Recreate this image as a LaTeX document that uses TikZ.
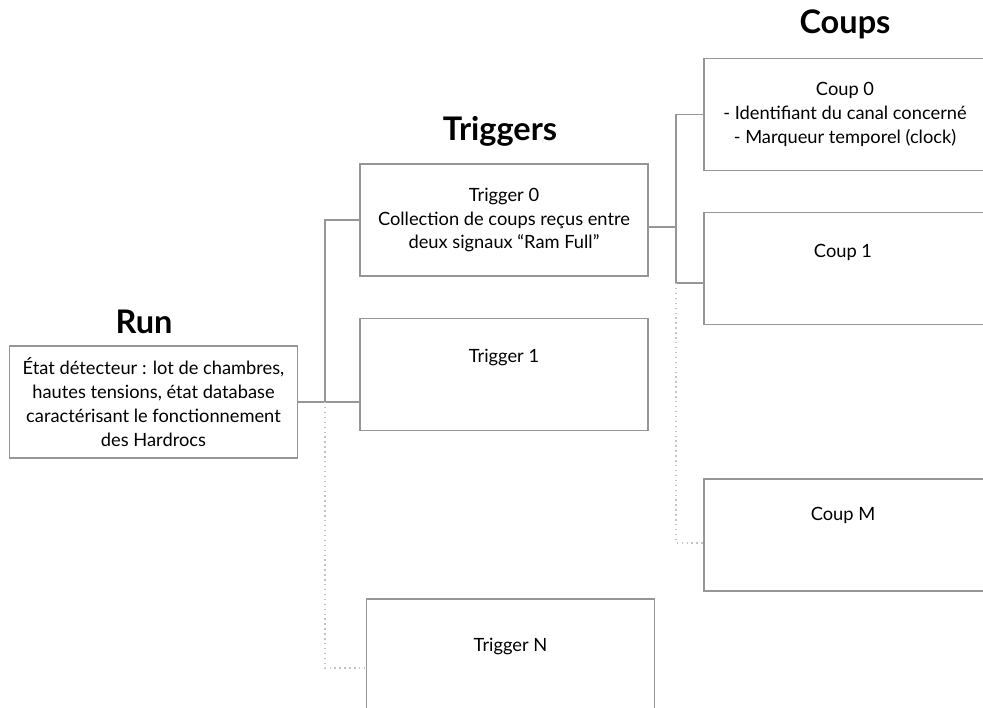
\documentclass[tikz,border=0pt]{standalone}
\usepackage{fontspec}
\setmainfont{Lato}
\usetikzlibrary{positioning, calc}

\definecolor{linegray}{RGB}{150,150,150}
\definecolor{dotgray}{RGB}{195,195,195}

\tikzset{
  levelbox/.style={rectangle, draw=linegray, line width=0.9pt, minimum width=5.76cm, minimum height=2.24cm, inner sep=0pt, align=center, font=\fontsize{10.4}{13.6}\selectfont},
  boxtext/.style={align=center, font=\fontsize{10.4}{13.6}\selectfont},
  leveltitle/.style={font=\fontsize{18.5}{22}\selectfont\bfseries},
  tie/.style={draw=linegray, line width=0.7pt},
  gap/.style={draw=dotgray, line width=0.8pt, dotted},
}

\begin{document}
\begin{tikzpicture}[x=0.02cm, y=-0.02cm]
\useasboundingbox (0,0) rectangle (983,707);
\clip (0,0) rectangle (983,707);

% run
\node[levelbox] (run) at (153.5,402) {État détecteur : lot de chambres,\\hautes tensions, état database\\caractérisant le fonctionnement\\des Hardrocs};
\node[leveltitle] (runtitle) at (144,322) {Run};

% triggers
\node[levelbox] (trig0) at (504,220) {Trigger 0\\Collection de coups reçus entre\\deux signaux “Ram Full”};
\node[levelbox] (trig1) at (504,374.5) {};
\node[boxtext] (trig1text) at (504,357) {Trigger 1};
\node[levelbox] (trigN) at (510.5,655) {};
\node[boxtext] (trigNtext) at (510.5,646) {Trigger N};
\node[leveltitle] (trigtitle) at (500,131) {Triggers};

% coups
\node[levelbox, minimum width=5.64cm] (coup0) at (845,114.5) {Coup 0\\- Identifiant du canal concerné\\- Marqueur temporel (clock)};
\node[levelbox, minimum width=5.64cm] (coup1) at (845,268.5) {};
\node[boxtext] (coup1text) at (843,252) {Coup 1};
\node[levelbox, minimum width=5.64cm] (coupM) at (845,535) {};
\node[boxtext] (coupMtext) at (843,515) {Coup M};
\node[leveltitle] (couptitle) at (845,24) {Coups};

% run -> triggers
\coordinate (tbus) at (325,402);
\draw[tie] (run.east) -- (run.east -| trig1.west);
\draw[tie] (tbus) |- (trig0.west);
\draw[gap] (tbus) |- ([yshift=-0.26cm]trigN.west);

% trigger 0 -> coups
\coordinate (cbus) at (676,227);
\coordinate (c1in) at ([yshift=-0.29cm]coup1.west);
\draw[tie] (trig0.east |- cbus) -- (cbus);
\draw[tie] (coup0.west) -| (cbus) |- (c1in);
\draw[gap] (c1in -| cbus) |- ([yshift=-0.16cm]coupM.west);
\end{tikzpicture}
\end{document}
